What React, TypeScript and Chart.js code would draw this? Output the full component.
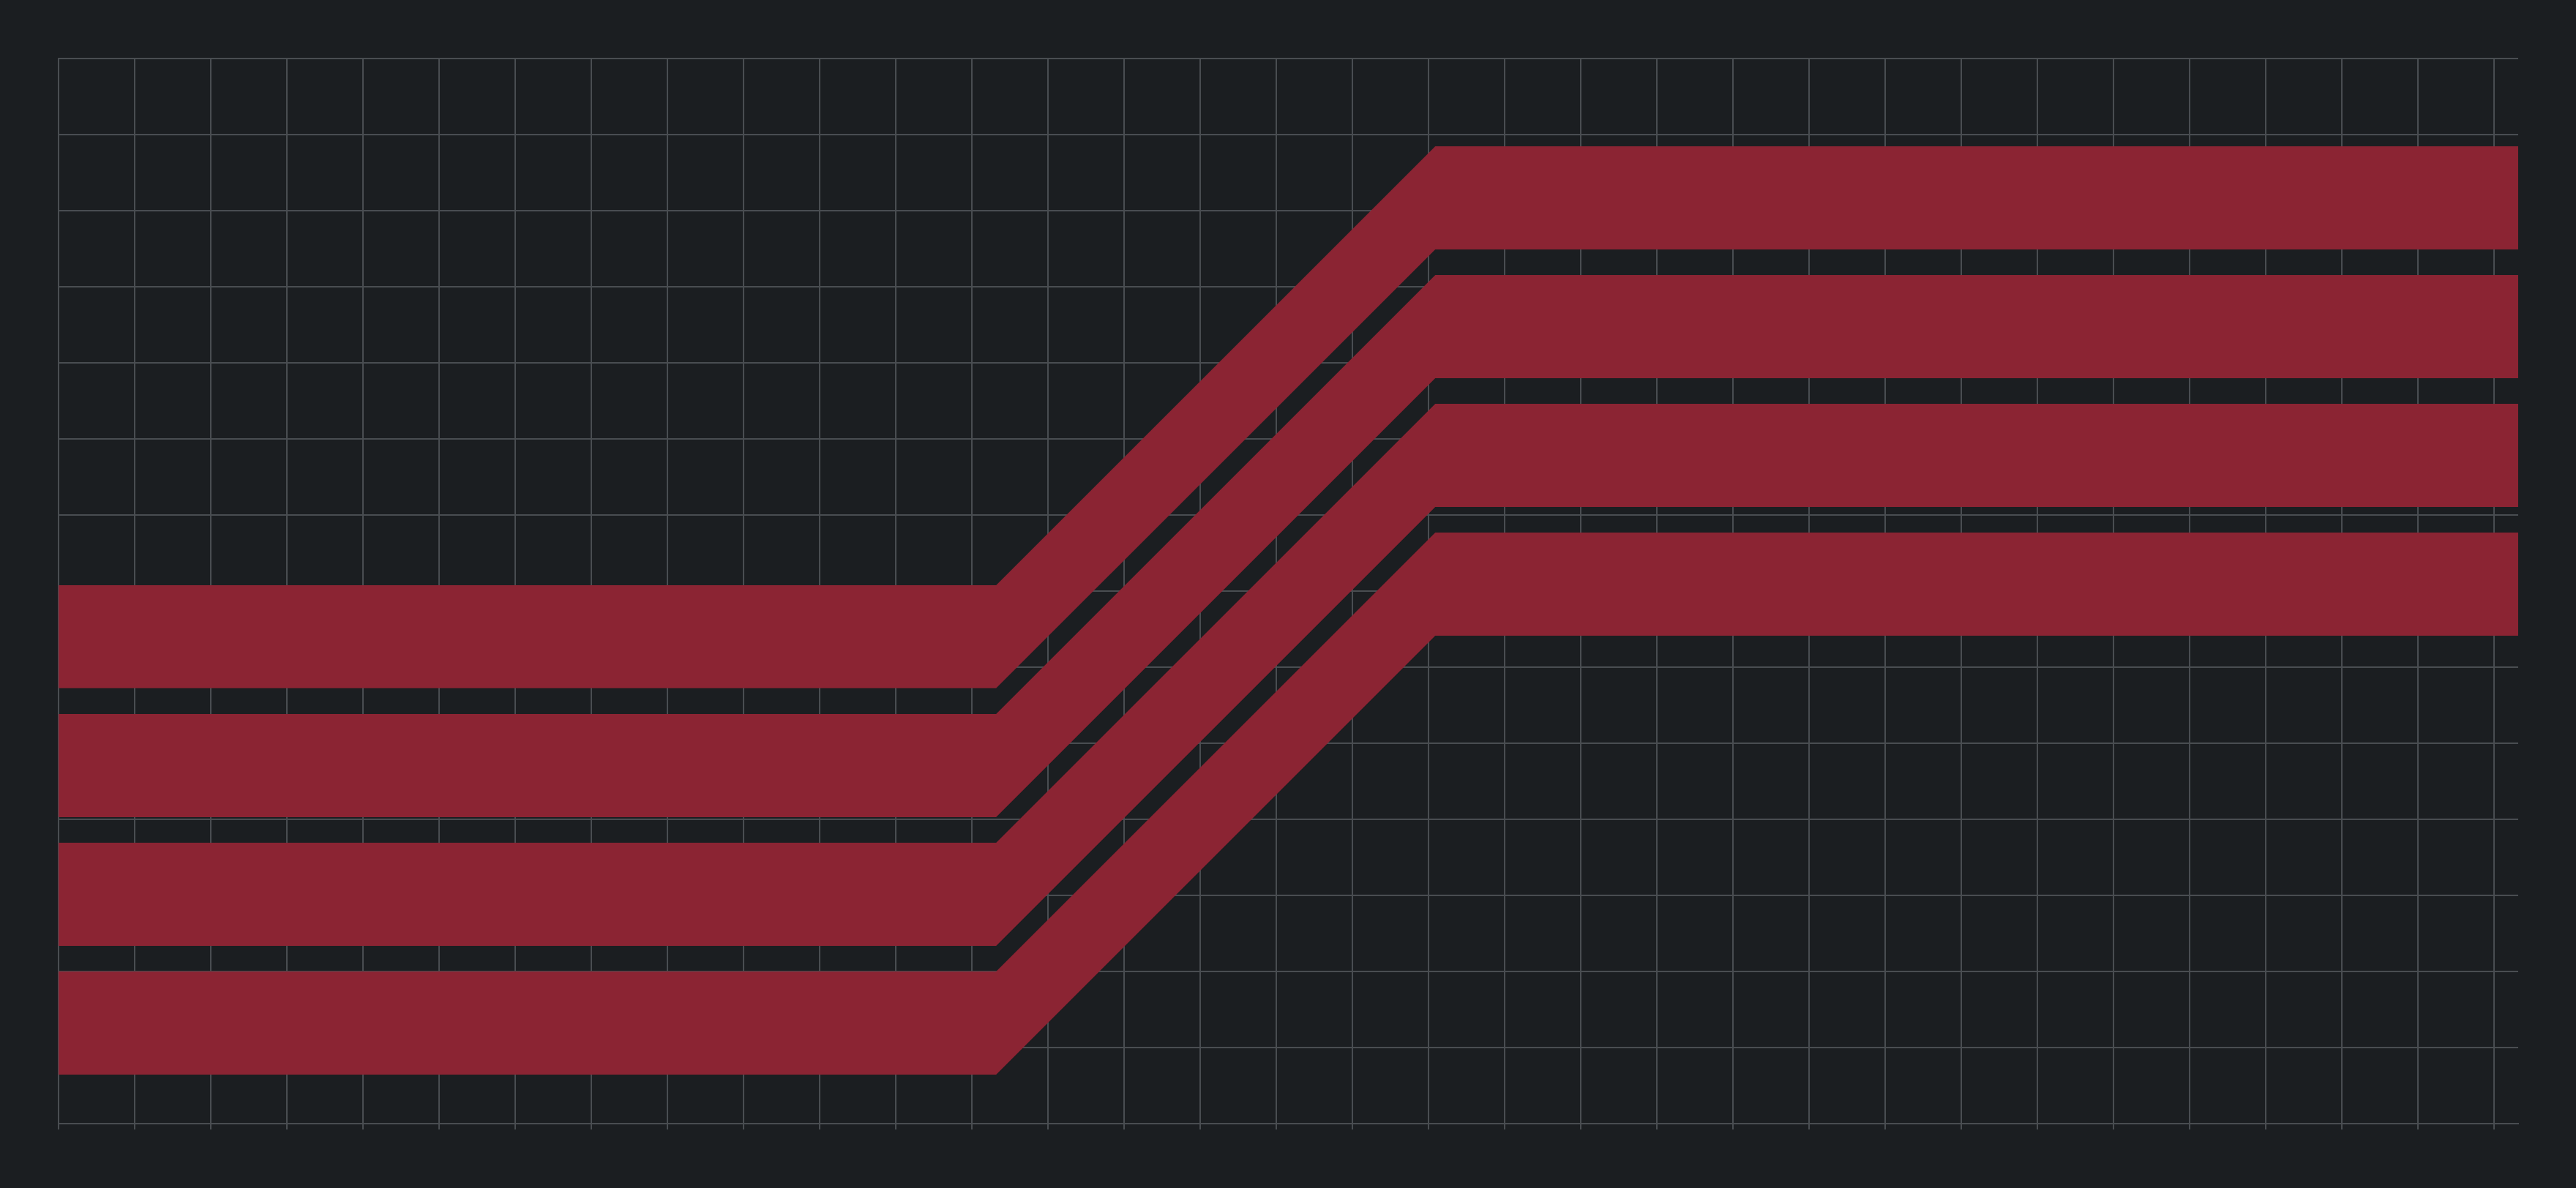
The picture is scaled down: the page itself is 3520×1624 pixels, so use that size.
import { useEffect, useRef } from "react"
import { Chart, registerables } from "chart.js"

Chart.register(...registerables)

// x positions of the band corners (grid units)
const xPoints = [0, 12.32, 18.09, 32.32]

// each band = lower edge + upper edge, bottom band first
const bandD_lower = [0.644, 0.644, 6.413, 6.413]
const bandD_upper = [2.0, 2.0, 7.769, 7.769]
const bandC_lower = [2.337, 2.337, 8.106, 8.106]
const bandC_upper = [3.692, 3.692, 9.462, 9.462]
const bandB_lower = [4.029, 4.029, 9.798, 9.798]
const bandB_upper = [5.385, 5.385, 11.154, 11.154]
const bandA_lower = [5.724, 5.724, 11.49, 11.49]
const bandA_upper = [7.077, 7.077, 12.846, 12.846]

const xTicks = [0, 1, 2, 3, 4, 5, 6, 7, 8, 9, 10, 11, 12, 13, 14, 15, 16, 17, 18, 19, 20, 21, 22, 23, 24, 25, 26, 27, 28, 29, 30, 31, 32]
const yTicks = [0, 1, 2, 3, 4, 5, 6, 7, 8, 9, 10, 11, 12, 13, 14]

const BG = "#1b1e21"
const GRID = "#494d51"
const RED = "#8b2433"

const bands = [
  [bandD_lower, bandD_upper],
  [bandC_lower, bandC_upper],
  [bandB_lower, bandB_upper],
  [bandA_lower, bandA_upper],
]

export default function App() {
  const canvasRef = useRef<HTMLCanvasElement>(null)
  const chartRef = useRef<Chart | null>(null)

  useEffect(() => {
    document.body.style.margin = "0"
    document.body.style.background = BG
    if (!canvasRef.current) return

    const toPts = (ys: number[]) => ys.map((y, i) => ({ x: xPoints[i], y }))

    const datasets: any[] = []
    bands.forEach(([lower, upper]) => {
      datasets.push({
        data: toPts(lower),
        borderColor: "transparent",
        borderWidth: 0,
        pointRadius: 0,
        fill: false,
      })
      datasets.push({
        data: toPts(upper),
        borderColor: "transparent",
        borderWidth: 0,
        pointRadius: 0,
        backgroundColor: RED,
        fill: "-1",
      })
    })

    if (chartRef.current) chartRef.current.destroy()
    chartRef.current = new Chart(canvasRef.current, {
      type: "line",
      data: { datasets },
      options: {
        animation: false,
        responsive: true,
        maintainAspectRatio: false,
        layout: { padding: { left: 80, top: 80, right: 79, bottom: 80 } },
        plugins: {
          legend: { display: false },
          tooltip: { enabled: false },
        },
        elements: { line: { tension: 0 } },
        scales: {
          x: {
            type: "linear",
            min: 0,
            max: 32.32,
            afterBuildTicks: (scale: any) => {
              scale.ticks = xTicks.map((v) => ({ value: v }))
            },
            ticks: { display: false },
            grid: { color: GRID, lineWidth: 2, drawTicks: true, tickLength: 8, tickColor: GRID },
            border: { color: GRID, width: 2 },
          },
          y: {
            type: "linear",
            min: 0,
            max: 14,
            afterBuildTicks: (scale: any) => {
              scale.ticks = yTicks.map((v) => ({ value: v }))
            },
            ticks: { display: false },
            grid: { color: GRID, lineWidth: 2, drawTicks: false },
            border: { color: GRID, width: 2 },
          },
        },
      },
    })

    return () => {
      if (chartRef.current) {
        chartRef.current.destroy()
        chartRef.current = null
      }
    }
  }, [])

  return (
    <div style={{ width: "100vw", height: "100vh", background: BG, position: "relative" }}>
      <canvas ref={canvasRef}></canvas>
    </div>
  )
}
